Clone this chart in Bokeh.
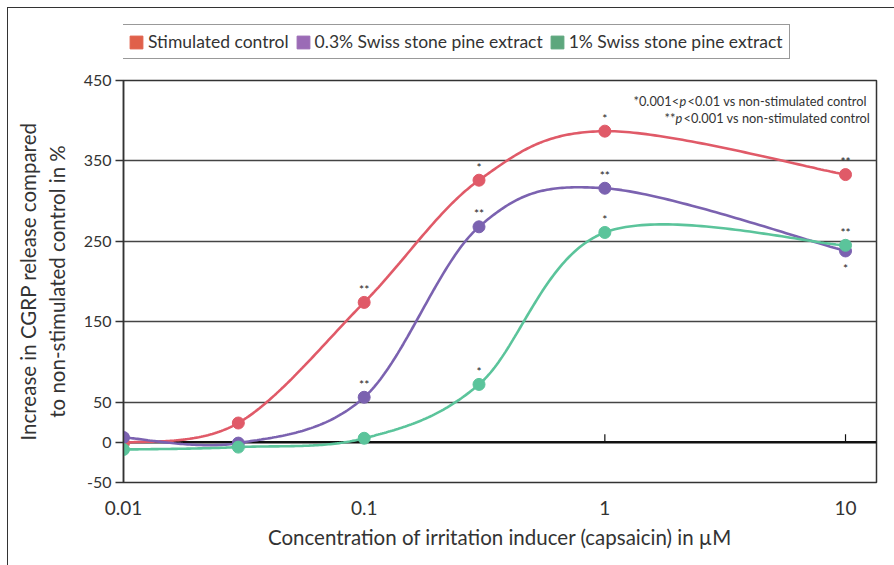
import numpy as np
from bokeh.plotting import figure
from bokeh.layouts import column
from bokeh.models import Legend, LegendItem, Span, Label, FixedTicker
from bokeh.core.properties import value
from bokeh.embed import file_html
from bokeh.resources import INLINE

# ---------------- data ----------------
concentration = [0.01, 0.03, 0.1, 0.3, 1, 10]
stimulated = [-1, 24, 174, 326, 387, 333]
swiss_03 = [6, -1, 56, 268, 316, 238]
swiss_1 = [-9, -6, 5, 72, 261, 245]
sig_stimulated = ["", "", "**", "*", "*", "**"]
sig_03 = ["", "", "**", "**", "**", "*"]
sig_1 = ["", "", "", "*", "*", "**"]
sig_below_03 = [False, False, False, False, False, True]
series_names = ["Stimulated control", "0.3% Swiss stone pine extract", "1% Swiss stone pine extract"]
line_colors = ["#E05A68", "#7B62B0", "#5BC49B"]
legend_colors = ["#E0604A", "#9B6BB6", "#5DA77D"]
y_ticks = [-50, 0, 50, 150, 250, 350, 450]
y_tick_labels = ["-50", "0", "50", "150", "250", "350", "450"]
grid_ticks = [50, 150, 250, 350]
x_ticks = [0.01, 0.1, 1, 10]
x_tick_labels = ["0.01", "0.1", "1", "10"]

FONT = "Lato"
TXT = "#333333"
W = 886
LEG_H = 62

p = figure(width=W, height=557 - LEG_H, x_axis_type="log",
           x_range=(0.01, 13.45), y_range=(-50, 450),
           output_backend="svg", toolbar_location=None,
           min_border_left=115, min_border_right=18,
           min_border_top=10, min_border_bottom=83)

p.outline_line_color = "#333333"
p.outline_line_width = 1.5
p.xgrid.grid_line_color = None
p.ygrid.ticker = FixedTicker(ticks=grid_ticks)
p.ygrid.grid_line_color = "#444444"
p.ygrid.grid_line_width = 1.5

# y axis
ya = p.yaxis[0]
ya.ticker = FixedTicker(ticks=y_ticks)
ya.major_label_overrides = {t: l for t, l in zip(y_ticks, y_tick_labels)}
ya.major_tick_out = 8
ya.major_tick_in = 0
ya.minor_tick_out = 0
ya.minor_tick_in = 0
ya.axis_line_color = "#333333"
ya.axis_line_width = 1.5
ya.major_tick_line_color = "#333333"
ya.major_tick_line_width = 1.5
ya.major_label_text_font = FONT
ya.major_label_text_font_size = "16px"
ya.major_label_text_color = TXT
ya.major_label_standoff = 4
ya.axis_label = "Increase in CGRP release compared\nto non-stimulated control in %"
ya.axis_label_text_font = FONT
ya.axis_label_text_font_size = "20.5px"
ya.axis_label_text_font_style = "normal"
ya.axis_label_text_color = TXT
ya.axis_label_standoff = 12

# x axis
xa = p.xaxis[0]
xa.ticker = FixedTicker(ticks=x_ticks)
xa.major_label_overrides = {t: l for t, l in zip(x_ticks, x_tick_labels)}
xa.axis_line_color = None
xa.major_tick_line_color = None
xa.minor_tick_line_color = None
xa.major_label_text_font = FONT
xa.major_label_text_font_size = "19px"
xa.major_label_text_color = TXT
xa.major_label_standoff = 12
xa.axis_label = "Concentration of irritation inducer (capsaicin) in µM"
xa.axis_label_text_font = FONT
xa.axis_label_text_font_size = "20.5px"
xa.axis_label_text_font_style = "normal"
xa.axis_label_text_color = TXT
xa.axis_label_standoff = 7

# zero line with upward ticks
p.add_layout(Span(location=0, dimension="width", line_color="#111111",
                  line_width=2.5, level="underlay"))
p.segment(x0=x_ticks, y0=[0] * len(x_ticks), x1=x_ticks, y1=[10] * len(x_ticks),
          line_color="#111111", line_width=1.2, level="underlay")

# smooth (Catmull-Rom in screen-like space, like a spreadsheet "smoothed line")
PX_DEC = 240.7
PX_UNIT = 0.804


def smooth(xs, ys, n=60):
    u = np.log10(np.asarray(xs, float)) * PX_DEC
    v = np.asarray(ys, float) * PX_UNIT
    P = np.column_stack([u, v])
    out = []
    t = np.linspace(0, 1, n)[:, None]
    h00 = 2 * t**3 - 3 * t**2 + 1
    h10 = t**3 - 2 * t**2 + t
    h01 = -2 * t**3 + 3 * t**2
    h11 = t**3 - t**2
    for i in range(len(P) - 1):
        p0 = P[i - 1] if i > 0 else P[i]
        p1, p2 = P[i], P[i + 1]
        p3 = P[i + 2] if i + 2 < len(P) else P[i + 1]
        m1 = (p2 - p0) / 2
        m2 = (p3 - p1) / 2
        seg = h00 * p1 + h10 * m1 + h01 * p2 + h11 * m2
        out.append(seg if i == 0 else seg[1:])
    S = np.vstack(out)
    return 10 ** (S[:, 0] / PX_DEC), S[:, 1] / PX_UNIT


all_series = [stimulated, swiss_03, swiss_1]
all_sig = [sig_stimulated, sig_03, sig_1]

for ys, col in zip(all_series, line_colors):
    sx, sy = smooth(concentration, ys)
    p.line(sx, sy, line_color=col, line_width=2.6)

for ys, col in zip(all_series, line_colors):
    p.scatter(concentration, ys, marker="circle", size=12, fill_color=col,
              line_color=col)

# significance marks
for k, (ys, sig) in enumerate(zip(all_series, all_sig)):
    for i, (xv, yv, s) in enumerate(zip(concentration, ys, sig)):
        if not s:
            continue
        below = (k == 1 and sig_below_03[i])
        p.text(x=[xv], y=[yv], text=[s], text_font=value(FONT),
               text_font_size="12px", text_color="#222222", text_align="center",
               text_baseline="middle", y_offset=(18 if below else -13))

# p-value note (left-aligned pieces)
note_size = "12.8px"
note_pieces = [
    (510, 382, "*0.001<", "normal"),
    (556, 382, "p", "italic"),
    (564, 382, "<0.01 vs non-stimulated control", "normal"),
    (541, 365, "**", "normal"),
    (552, 365, "p", "italic"),
    (560, 365, "<0.001 vs non-stimulated control", "normal"),
]
for nx, ny, txt, sty in note_pieces:
    p.add_layout(Label(x=nx, y=ny, x_units="screen", y_units="screen",
                       text=txt, text_font=FONT, text_font_style=sty,
                       text_font_size=note_size, text_color=TXT,
                       text_align="left", text_baseline="middle"))

# legend strip (separate figure above the chart)
lf = figure(width=W, height=LEG_H, x_range=(0, 1), y_range=(0, 1),
            output_backend="svg", toolbar_location=None,
            x_axis_location=None, y_axis_location=None,
            min_border=0, min_border_left=0, min_border_right=0,
            min_border_top=0, min_border_bottom=0)
lf.outline_line_color = None
lf.xgrid.grid_line_color = None
lf.ygrid.grid_line_color = None
items = []
for name, col in zip(series_names, legend_colors):
    r = lf.quad(left=[np.nan], right=[np.nan], top=[np.nan], bottom=[np.nan],
                fill_color=col, line_color=col)
    items.append(LegendItem(label=name, renderers=[r]))
legend = Legend(items=items, orientation="horizontal", location=(-2, 11),
                border_line_color="#333333", border_line_width=1.5,
                background_fill_color="white", background_fill_alpha=1,
                label_text_font=FONT, label_text_font_size="17.5px",
                label_text_color=TXT, glyph_width=16, glyph_height=16,
                label_standoff=4, spacing=6, padding=6, margin=0,
                label_height=16)
lf.add_layout(legend, "center")

page = column(lf, p, spacing=0)
page.styles = {"border-top": "1.5px solid #333", "border-left": "1.5px solid #333",
               "margin-left": "7px", "margin-top": "7px"}

open("out.html", "w").write(file_html(page, INLINE))
